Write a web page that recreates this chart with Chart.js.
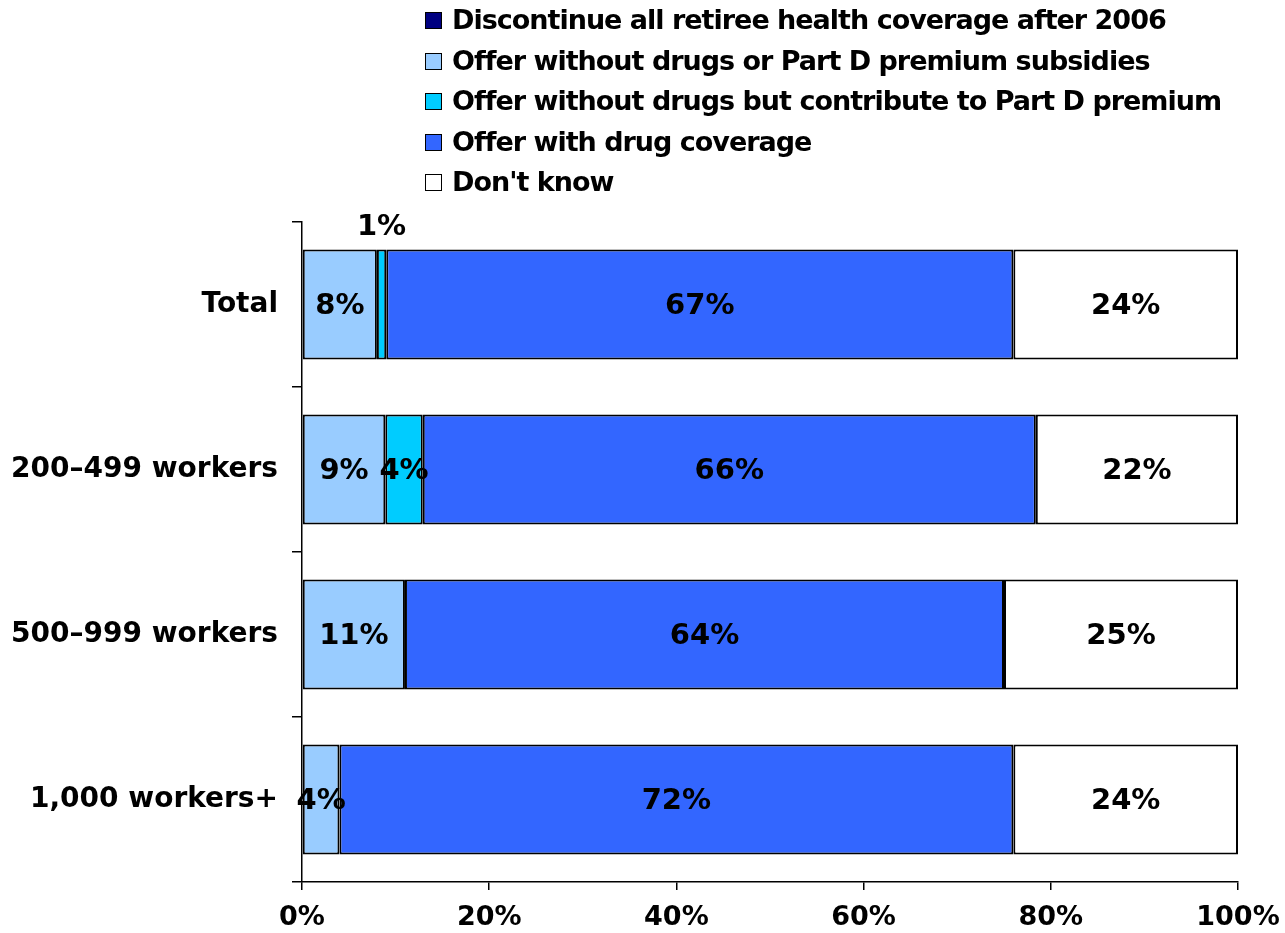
<!DOCTYPE html>
<html>
<head>
<meta charset="utf-8">
<script src="https://cdn.jsdelivr.net/npm/chart.js@4"></script>
<style>
  body { margin: 0; background: #fff; }
  #wrap { position: relative; width: 1285px; height: 933px; }
  #legend { position: absolute; left: 425px; top: 0; font: bold 27px "DejaVu Sans", sans-serif; color: #000; }
  #legend div { height: 40.5px; line-height: 40.5px; white-space: nowrap; letter-spacing: -1px; }
  #legend span.box { display: inline-block; width: 15px; height: 15px; border: 1.5px solid #000; margin-right: 10px; vertical-align: 0px; }
</style>
</head>
<body>
<div id="wrap">
  <canvas id="myChart" width="1285" height="933"></canvas>
  <div id="legend"></div>
</div>
<script>
var categorias = ['Total', '200\u2013499 workers', '500\u2013999 workers', '1,000 workers+'];
var discontinue = [0, 0, 0, 0];
var semDrogas = [8, 8.9, 11, 4];
var semDrogasParteD = [1, 4, 0, 0];
var comDrogas = [67, 65.5, 64, 72];
var naoSabe = [24, 21.6, 25, 24];
var ticksX = [0, 20, 40, 60, 80, 100];

var fonte = '"DejaVu Sans", sans-serif';

function borda(ctx) {
  return ctx.raw > 0 ? 2 : 0;
}

// rótulos de porcentagem dentro das barras
var rotulos = {
  id: 'rotulos',
  afterDatasetsDraw: function(chart) {
    var ctx = chart.ctx;
    ctx.save();
    ctx.font = 'bold 29px ' + fonte;
    ctx.fillStyle = '#000';
    ctx.textAlign = 'center';
    ctx.textBaseline = 'middle';
    chart.data.datasets.forEach(function(ds, i) {
      var meta = chart.getDatasetMeta(i);
      meta.data.forEach(function(bar, j) {
        var v = ds.data[j];
        if (!v) return;
        var x = (bar.x + bar.base) / 2;
        var y = bar.y + 2;
        if (v < 2) y = bar.y - bar.height / 2 - 22;
        ctx.fillText(Math.round(v) + '%', x, y);
      });
    });
    ctx.restore();
  }
};

var ctx = document.getElementById('myChart').getContext('2d');
var myChart = new Chart(ctx, {
  type: 'bar',
  data: {
    labels: categorias,
    datasets: [
      { label: 'Discontinue all retiree health coverage after 2006', data: discontinue, backgroundColor: '#000080' },
      { label: 'Offer without drugs or Part D premium subsidies', data: semDrogas, backgroundColor: '#99CCFF' },
      { label: 'Offer without drugs but contribute to Part D premium', data: semDrogasParteD, backgroundColor: '#00CCFF' },
      { label: 'Offer with drug coverage', data: comDrogas, backgroundColor: '#3366FF' },
      { label: "Don't know", data: naoSabe, backgroundColor: '#FFFFFF' }
    ].map(function(d) {
      d.borderColor = '#000';
      d.borderWidth = borda;
      d.borderSkipped = false;
      d.categoryPercentage = 1;
      d.barPercentage = 0.667;
      return d;
    })
  },
  options: {
    indexAxis: 'y',
    responsive: false,
    animation: false,
    devicePixelRatio: 1,
    layout: { padding: { top: 222, right: 47, left: 0, bottom: 0 } },
    plugins: {
      legend: { display: false },
      tooltip: { enabled: false }
    },
    scales: {
      x: {
        stacked: true,
        min: 0,
        max: 100,
        afterBuildTicks: function(s) { s.ticks = ticksX.map(function(v) { return { value: v }; }); },
        afterFit: function(s) { s.height = 51; s.paddingLeft = 0; s.paddingRight = 0; },
        grid: { drawOnChartArea: false, drawTicks: true, tickLength: 8, color: '#000', lineWidth: 1.5 },
        border: { color: '#000', width: 1.5 },
        ticks: {
          color: '#000',
          padding: 12,
          maxRotation: 0,
          font: { family: fonte, size: 27, weight: 'bold' },
          callback: function(v) { return v + '%'; }
        }
      },
      y: {
        stacked: true,
        afterFit: function(s) { s.width = 302; },
        grid: { drawOnChartArea: false, drawTicks: true, tickLength: 10, color: '#000', lineWidth: 1.5, offset: true },
        border: { color: '#000', width: 1.5 },
        ticks: {
          color: '#000',
          padding: 14,
          font: { family: fonte, size: 28, weight: 'bold' }
        }
      }
    }
  },
  plugins: [rotulos]
});

// legenda em coluna, como no original
var leg = document.getElementById('legend');
myChart.data.datasets.forEach(function(ds) {
  var item = document.createElement('div');
  item.innerHTML = '<span class="box" style="background:' + ds.backgroundColor + '"></span>' + ds.label;
  leg.appendChild(item);
});
</script>
</body>
</html>
